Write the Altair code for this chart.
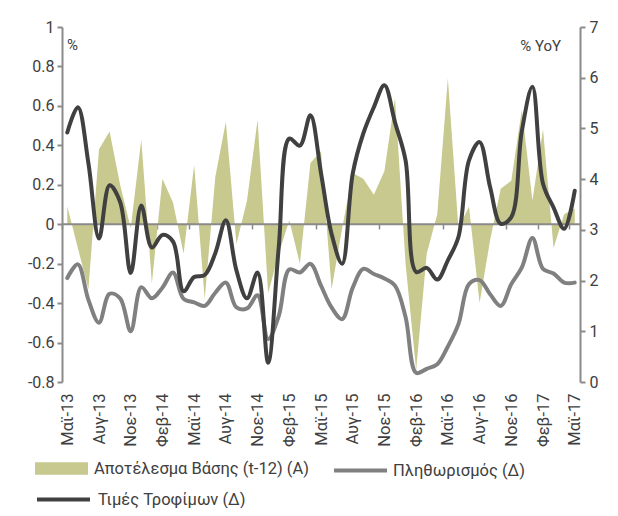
import altair as alt
import pandas as pd

# ---- data ----
month_names = ["Μαϊ", "Ιουν", "Ιουλ", "Αυγ", "Σεπ", "Οκτ", "Νοε", "Δεκ", "Ιαν", "Φεβ", "Μαρ", "Απρ"]
months = []
for k in range(49):
    m = month_names[k % 12]
    yr = 13 + (k + 4) // 12
    months.append(f"{m}-{yr}")

base_effect = [0.09, -0.12, -0.33, 0.38, 0.47, 0.20, -0.02, 0.43, -0.30, 0.23,
               0.11, -0.15, 0.30, -0.38, 0.24, 0.52, -0.10, 0.12, 0.53, -0.35,
               -0.15, 0.02, -0.20, 0.31, 0.37, -0.33, -0.02, 0.26, 0.23, 0.15,
               0.27, 0.64, -0.20, -0.74, -0.15, 0.05, 0.74, -0.02, 0.09, -0.40,
               -0.08, 0.18, 0.22, 0.58, 0.12, 0.48, -0.12, 0.05, 0.08]

inflation = [2.05, 2.32, 1.62, 1.17, 1.74, 1.65, 1.00, 1.87, 1.65, 1.86,
             2.16, 1.64, 1.57, 1.50, 1.76, 1.96, 1.47, 1.45, 1.71, 0.85,
             1.30, 2.22, 2.16, 2.33, 1.90, 1.47, 1.24, 1.86, 2.23, 2.13,
             2.04, 1.90, 1.28, 0.18, 0.26, 0.35, 0.70, 1.14, 1.93, 2.01,
             1.73, 1.50, 1.93, 2.26, 2.84, 2.23, 2.14, 1.96, 1.96]

food_prices = [4.92, 5.42, 4.31, 2.83, 3.88, 3.55, 2.15, 3.48, 2.65, 2.90,
               2.77, 1.79, 2.07, 2.11, 2.54, 3.19, 2.20, 1.65, 2.16, 0.38,
               2.65, 4.80, 4.66, 5.26, 4.12, 2.92, 2.33, 4.11, 4.90, 5.42,
               5.85, 5.12, 4.37, 2.17, 2.25, 2.02, 2.40, 2.86, 4.37, 4.73,
               3.84, 3.12, 3.25, 4.95, 5.82, 3.91, 3.44, 3.02, 3.77]

left_ticks = [-0.8, -0.6, -0.4, -0.2, 0, 0.2, 0.4, 0.6, 0.8, 1]
right_ticks = [0, 1, 2, 3, 4, 5, 6, 7]

L_BASE = "Αποτέλεσμα Βάσης (t-12) (Α)"
L_INFL = "Πληθωρισμός (Δ)"
L_FOOD = "Τιμές Τροφίμων (Δ)"

FONT = "Roboto"
TXT = "#404040"
AX = "#8a8a8a"

df = pd.DataFrame({
    "idx": list(range(len(months))),
    "month": months,
    "base": base_effect,
    "infl": inflation,
    "food": food_prices,
    "s_base": L_BASE,
    "s_infl": L_INFL,
    "s_food": L_FOOD,
})

xscale = alt.Scale(domain=[-0.5, len(months) - 0.5], nice=False, zero=False)
labels_js = "[" + ",".join(f"'{m}'" for m in months) + "]"

x_labels = alt.X(
    "idx:Q", scale=xscale,
    axis=alt.Axis(values=list(range(0, len(months), 3)), labelExpr=f"{labels_js}[datum.value]",
                  labelAngle=270, labelAlign="right", labelBaseline="middle",
                  ticks=False, domain=False, grid=False, labelPadding=11,
                  labelFontSize=16.5, labelColor=TXT, labelFont=FONT, title=None, orient="bottom"))

yleft = alt.Scale(domain=[-0.8, 1], nice=False, zero=False)
yright = alt.Scale(domain=[0, 7], nice=False, zero=False)

area = alt.Chart(df).mark_area(interpolate="linear", opacity=1).encode(
    x=x_labels,
    y=alt.Y("base:Q", scale=yleft,
            axis=alt.Axis(orient="left", values=left_ticks,
                          labelExpr="toString(round(datum.value*10)/10)",
                          domainColor=AX, domainWidth=2, tickColor=AX, tickWidth=2, tickSize=5,
                          labelFontSize=16, labelColor=TXT, labelFont=FONT, labelPadding=3,
                          grid=False, title=None)),
    y2=alt.datum(0),
    fill=alt.Fill("s_base:N", scale=alt.Scale(domain=[L_BASE], range=["#c8c98e"]),
                  legend=alt.Legend(orient="none", legendX=-27, legendY=415, title=None,
                                    symbolType="M-1,-0.24L1,-0.24L1,0.24L-1,0.24Z",
                                    symbolSize=2809, symbolStrokeWidth=0, symbolOpacity=1,
                                    labelFontSize=16.5, labelColor=TXT, labelFont=FONT,
                                    labelOffset=6, labelLimit=400, padding=0)),
)

zero_df = pd.DataFrame({"x0": [-0.5], "x1": [len(months) - 0.5], "y0": [0.0]})
zero_rule = alt.Chart(zero_df).mark_rule(color=AX, strokeWidth=2).encode(
    x=alt.X("x0:Q", scale=xscale,
            axis=alt.Axis(orient="bottom", offset=-158,
                          values=[v - 0.5 for v in range(0, len(months), 3)],
                          labels=False, domain=False, ticks=True, tickSize=5, tickColor=AX,
                          tickWidth=1.5, grid=False, title=None)),
    x2="x1:Q",
    y=alt.Y("y0:Q", scale=yleft, axis=None),
)

infl_line = alt.Chart(df).mark_line(interpolate="catmull-rom", strokeWidth=4, strokeCap="round").encode(
    x=alt.X("idx:Q", scale=xscale, axis=None),
    y=alt.Y("infl:Q", scale=yright,
            axis=alt.Axis(orient="right", values=right_ticks,
                          domainColor=AX, domainWidth=2, tickColor=AX, tickWidth=2, tickSize=5,
                          labelFontSize=16, labelColor=TXT, labelFont=FONT, labelPadding=4,
                          grid=False, title=None)),
    stroke=alt.Stroke("s_infl:N", scale=alt.Scale(domain=[L_INFL], range=["#808080"]),
                      legend=alt.Legend(orient="none", legendX=270, legendY=415, title=None,
                                        symbolType="stroke", symbolSize=2809, symbolStrokeWidth=4,
                                        labelFontSize=16.5, labelColor=TXT, labelFont=FONT,
                                        labelOffset=4, labelLimit=400, padding=0)),
)

food_line = alt.Chart(df).mark_line(interpolate="catmull-rom", strokeWidth=4, strokeCap="round").encode(
    x=alt.X("idx:Q", scale=xscale, axis=None),
    y=alt.Y("food:Q", scale=yright, axis=None),
    color=alt.Color("s_food:N", scale=alt.Scale(domain=[L_FOOD], range=["#404040"]),
                    legend=alt.Legend(orient="none", legendX=-27, legendY=444, title=None,
                                      symbolType="stroke", symbolSize=2809, symbolStrokeWidth=4,
                                      labelFontSize=16.5, labelColor=TXT, labelFont=FONT,
                                      labelOffset=6, labelLimit=400, padding=0)),
)

pct_left = alt.Chart(pd.DataFrame({"t": ["%"]})).mark_text(
    align="left", baseline="middle", fontSize=15, font=FONT, color=TXT
).encode(text="t:N", x=alt.value(5), y=alt.value(18))

pct_right = alt.Chart(pd.DataFrame({"t": ["% YoY"]})).mark_text(
    align="right", baseline="middle", fontSize=15, font=FONT, color=TXT
).encode(text="t:N", x=alt.value(499), y=alt.value(19))

chart = alt.layer(area, zero_rule, infl_line, food_line, pct_left, pct_right).resolve_scale(
    y="independent"
).resolve_axis(
    x="independent", y="independent"
).properties(
    width=518, height=355,
    autosize=alt.AutoSizeParams(type="none"),
    padding={"left": 54, "top": 19, "right": 30, "bottom": 126},
).configure_view(stroke=None)

chart.save("out.html", embed_options={"renderer": "svg", "actions": False})
